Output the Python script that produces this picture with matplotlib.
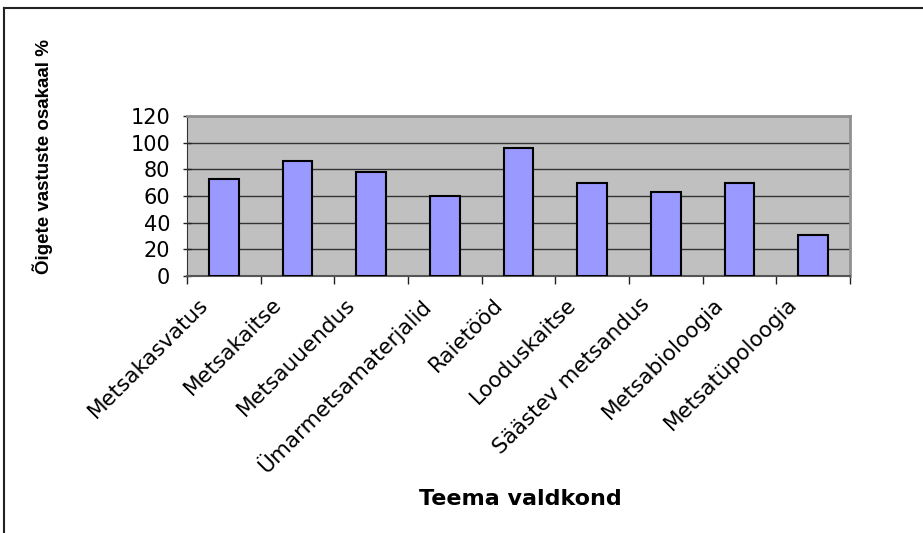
import matplotlib
matplotlib.use("Agg")
import matplotlib.pyplot as plt
import matplotlib.transforms as mtransforms
from matplotlib.lines import Line2D
import numpy as np

categories = ["Metsakasvatus", "Metsakaitse", "Metsauuendus", "Ümarmetsamaterjalid",
              "Raietööd", "Looduskaitse", "Säästev metsandus", "Metsabioloogia",
              "Metsatüpoloogia"]
values = [73, 86, 78, 60, 96, 70, 63, 70, 31]
y_ticks = [0, 20, 40, 60, 80, 100, 120]

plt.rcParams["font.family"] = ["DejaVu Sans"]

fig = plt.figure(figsize=(9.23, 5.33), dpi=100)
ax = fig.add_axes([187 / 923, 1 - 276 / 533, (850 - 187) / 923, (276 - 116) / 533])

x = np.arange(len(categories))
ax.set_facecolor("#C0C0C0")
ax.bar(x, values, width=0.4, color="#9999FF", edgecolor="black", linewidth=1.5, zorder=3)

ax.set_xlim(-0.5, len(categories) - 0.5)
ax.set_ylim(0, 120)
ax.set_yticks(y_ticks)
ax.set_yticklabels([str(v) for v in y_ticks], fontsize=15)
for v in y_ticks[1:-1]:
    ax.axhline(v, color="#333333", linewidth=1, zorder=1)

# ticks at category boundaries, labels at centres
ax.set_xticks(np.arange(len(categories) + 1) - 0.5)
ax.set_xticklabels([])
ax.set_xticks(x, minor=True)
ax.set_xticklabels(categories, minor=True, rotation=45, ha="right", va="top",
                   rotation_mode="anchor", fontsize=15.5)
ax.tick_params(axis="x", which="minor", length=0, pad=13)
ax.tick_params(axis="x", which="major", length=6, width=1, color="#222222", direction="out")
ax.tick_params(axis="y", length=6, width=1, color="#222222", direction="inout", pad=9)

offset = mtransforms.ScaledTranslation(-26 / 100, 0, fig.dpi_scale_trans)
for lbl in ax.get_xticklabels(minor=True):
    lbl.set_transform(lbl.get_transform() + offset)

for side in ["top", "right"]:
    ax.spines[side].set_color("#909090")
    ax.spines[side].set_linewidth(2)
ax.spines["left"].set_color("#333333")
ax.spines["bottom"].set_color("#555555")
ax.spines["bottom"].set_linewidth(1.5)

fig.text(43 / 923, 1 - 157 / 533, "Õigete vastuste osakaal %", rotation=90,
         ha="center", va="center", fontsize=13.5, fontweight="bold",
         family="Liberation Sans")
fig.text(520 / 923, 1 - 499 / 533, "Teema valdkond", ha="center", va="center",
         fontsize=16, fontweight="bold")

# outer chart frame (only top and left are inside the picture)
fig.add_artist(Line2D([4 / 923, 1.0], [1 - 8 / 533, 1 - 8 / 533],
                      transform=fig.transFigure, color="#222222", linewidth=1.5))
fig.add_artist(Line2D([4 / 923, 4 / 923], [1 - 8 / 533, 0.0],
                      transform=fig.transFigure, color="#222222", linewidth=1.5))

fig.savefig("out.png", dpi=100, facecolor="white")
